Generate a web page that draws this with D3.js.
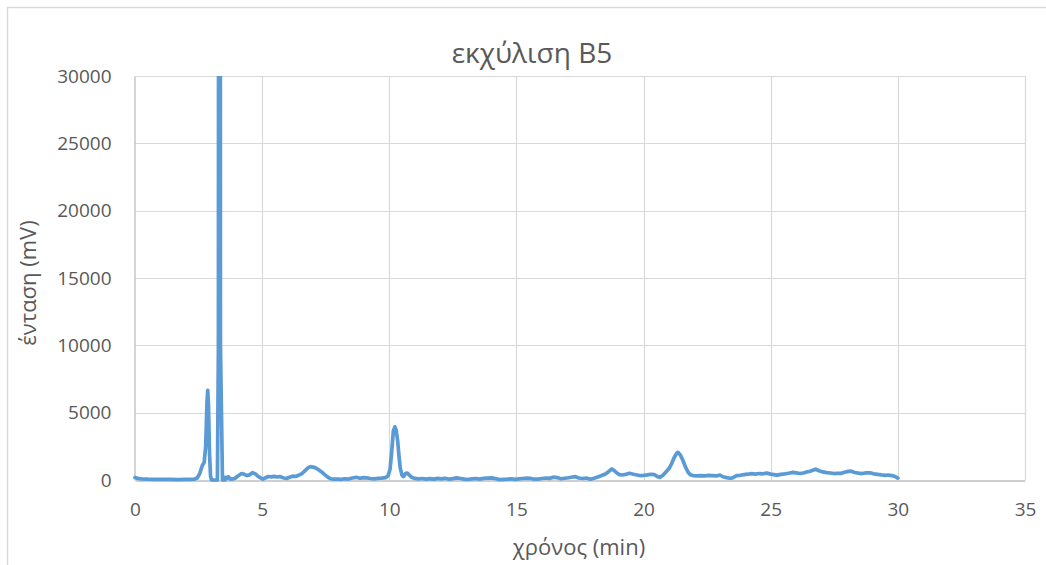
<!DOCTYPE html>
<html>
<head>
<meta charset="utf-8">
<script src="https://cdn.jsdelivr.net/npm/d3@7"></script>
<style>
  html, body { margin: 0; padding: 0; background: #fff; }
  svg { display: block; }
  text { font-family: "Open Sans", "DejaVu Sans", sans-serif; fill: #595959; }
</style>
</head>
<body>
<svg id="chart" width="1046" height="565"></svg>
<script>
// Chromatogram of extract B5: retention time (min) and detector signal (mV)
const timeMin = [
  0.00, 0.10, 0.25, 0.50, 0.80, 1.10, 1.40, 1.70, 2.00, 2.20, 2.35, 2.45, 2.55, 2.65, 2.72, 2.78,
  2.83, 2.86, 2.89, 2.93, 2.97, 3.01, 3.10, 3.24, 3.28, 3.32, 3.36, 3.44, 3.52, 3.56, 3.60,
  3.67, 3.75, 3.85, 3.95, 4.05, 4.19, 4.30, 4.40, 4.50, 4.62, 4.72, 4.82, 4.92, 5.03, 5.12, 5.24,
  5.36, 5.48, 5.60, 5.70, 5.82, 5.96, 6.08, 6.20, 6.32, 6.45, 6.58, 6.70, 6.80, 6.90, 7.00, 7.10,
  7.22, 7.34, 7.46, 7.57, 7.67, 7.80, 7.95, 8.10, 8.25, 8.40, 8.55, 8.70, 8.85, 9.00, 9.12, 9.25,
  9.40, 9.55, 9.70, 9.85, 9.95, 10.03, 10.10, 10.16, 10.22, 10.27, 10.33, 10.38, 10.43, 10.50, 10.56, 10.64,
  10.71, 10.78, 10.88, 11.00, 11.15, 11.30, 11.45, 11.60, 11.75, 11.90, 12.05, 12.20, 12.35, 12.50, 12.65, 12.80,
  12.95, 13.10, 13.25, 13.40, 13.55, 13.70, 13.85, 14.03, 14.20, 14.35, 14.50, 14.65, 14.80, 14.95, 15.10, 15.25,
  15.40, 15.55, 15.70, 15.85, 16.00, 16.15, 16.30, 16.45, 16.60, 16.75, 16.90, 17.05, 17.20, 17.32, 17.45, 17.60,
  17.75, 17.90, 18.05, 18.20, 18.35, 18.50, 18.62, 18.75, 18.85, 18.95, 19.05, 19.15, 19.30, 19.45, 19.60, 19.75,
  19.88, 20.00, 20.15, 20.30, 20.42, 20.55, 20.64, 20.75, 20.88, 21.00, 21.10, 21.20, 21.30, 21.36, 21.45, 21.55,
  21.65, 21.76, 21.85, 21.95, 22.10, 22.25, 22.40, 22.55, 22.70, 22.85, 23.00, 23.12, 23.27, 23.40, 23.50, 23.66,
  23.80, 23.95, 24.10, 24.25, 24.40, 24.55, 24.70, 24.84, 25.00, 25.12, 25.25, 25.40, 25.55, 25.70, 25.88, 26.00,
  26.15, 26.28, 26.42, 26.55, 26.68, 26.77, 26.90, 27.05, 27.20, 27.35, 27.50, 27.62, 27.75, 27.90, 28.05, 28.15,
  28.30, 28.45, 28.60, 28.75, 28.90, 29.05, 29.20, 29.35, 29.50, 29.62, 29.75, 29.85, 29.95, 30.00
];
const signalMv = [
  180, 120, 80, 60, 50, 40, 45, 35, 40, 50, 70, 150, 500, 1100, 1300, 2500,
  5800, 6650, 5600, 2000, 300, 0, 0, 0, 10000, 200000, 10000, 0, 0, 200, 80,
  250, 60, 80, 150, 300, 480, 420, 330, 380, 540, 470, 300, 180, 60, 150, 260,
  230, 270, 220, 260, 170, 110, 200, 290, 260, 370, 500, 720, 900, 990, 960, 900,
  760, 600, 400, 230, 110, 60, 70, 50, 90, 70, 150, 200, 130, 180, 160, 110,
  90, 120, 140, 180, 300, 800, 2200, 3650, 3950, 3700, 2900, 1800, 900, 350, 250, 480,
  520, 380, 200, 120, 80, 110, 60, 100, 70, 120, 80, 130, 60, 100, 160, 110,
  60, 40, 80, 110, 70, 120, 140, 160, 90, 30, 50, 60, 90, 50, 80, 110,
  140, 120, 60, 70, 110, 150, 120, 210, 180, 90, 130, 170, 220, 250, 150, 110,
  150, 60, 130, 220, 330, 450, 620, 820, 700, 520, 400, 370, 420, 500, 430, 370,
  320, 340, 380, 430, 400, 250, 200, 330, 600, 850, 1200, 1650, 1980, 2050, 1850, 1450,
  950, 550, 380, 330, 310, 330, 300, 340, 320, 300, 370, 240, 180, 130, 160, 320,
  350, 400, 430, 470, 440, 480, 460, 510, 440, 400, 360, 420, 450, 500, 570, 530,
  480, 520, 600, 650, 740, 800, 690, 600, 550, 520, 480, 500, 490, 580, 640, 660,
  560, 510, 480, 530, 540, 460, 420, 380, 350, 370, 330, 290, 200, 140
];
const xTicks = [0, 5, 10, 15, 20, 25, 30, 35];
const yTicks = [0, 5000, 10000, 15000, 20000, 25000, 30000];

const chartTitle = "εκχύλιση B5";
const xTitle = "χρόνος (min)";
const yTitle = "ένταση (mV)";

const svg = d3.select("#chart");
const W = 1046, H = 565;
const plot = { left: 135, right: 1025, top: 76, bottom: 480 };

const x = d3.scaleLinear().domain([0, 35]).range([plot.left, plot.right]);
const y = d3.scaleLinear().domain([0, 30000]).range([plot.bottom, plot.top]);

// chart-area frame (left and top edges)
svg.append("path")
  .attr("d", `M7.5,${H} L7.5,7.5 L${W},7.5`)
  .attr("fill", "none")
  .attr("stroke", "#D9D9D9")
  .attr("stroke-width", 1.5);

// gridlines
const grid = svg.append("g");
grid.selectAll("line.h").data(yTicks.filter(d => d > 0)).join("line")
  .attr("x1", plot.left).attr("x2", plot.right)
  .attr("y1", d => Math.round(y(d)) + 0.5).attr("y2", d => Math.round(y(d)) + 0.5)
  .attr("stroke", "#D9D9D9").attr("stroke-width", 1.2);
grid.selectAll("line.v").data(xTicks.filter(d => d > 0)).join("line")
  .attr("y1", plot.top).attr("y2", plot.bottom)
  .attr("x1", d => Math.round(x(d)) + 0.5).attr("x2", d => Math.round(x(d)) + 0.5)
  .attr("stroke", "#D9D9D9").attr("stroke-width", 1.2);

// axes
const xAxis = svg.append("g")
  .attr("transform", `translate(0,${plot.bottom + 0.5})`)
  .call(d3.axisBottom(x).tickValues(xTicks).tickSize(0).tickPadding(22).tickFormat(d3.format("d")));
xAxis.select(".domain").attr("stroke", "#BFBFBF").attr("stroke-width", 1.3);
xAxis.selectAll("text").style("font-size", "19px").attr("fill", "#595959")
  .style("font-family", "'Open Sans', sans-serif");

const yAxis = svg.append("g")
  .attr("transform", `translate(${plot.left - 0.5},0)`)
  .call(d3.axisLeft(y).tickValues(yTicks).tickSize(0).tickPadding(23).tickFormat(d3.format("d")));
yAxis.select(".domain").attr("stroke", "#BFBFBF").attr("stroke-width", 1.3);
yAxis.selectAll("text").style("font-size", "19px").attr("fill", "#595959")
  .style("font-family", "'Open Sans', sans-serif");

// clip the trace to the plotting area
svg.append("clipPath").attr("id", "plotClip")
  .append("rect")
  .attr("x", plot.left - 4).attr("y", plot.top)
  .attr("width", plot.right - plot.left + 8).attr("height", plot.bottom - plot.top + 6);

const points = timeMin.map((t, i) => [t, signalMv[i]]);
const line = d3.line().x(d => x(d[0])).y(d => y(d[1]));

svg.append("path")
  .datum(points)
  .attr("clip-path", "url(#plotClip)")
  .attr("d", line)
  .attr("fill", "none")
  .attr("stroke", "#5B9BD5")
  .attr("stroke-width", 3.7)
  .attr("stroke-linejoin", "round")
  .attr("stroke-linecap", "round");

// titles
svg.append("text")
  .attr("x", 532).attr("y", 63)
  .attr("text-anchor", "middle")
  .style("font-size", "28px")
  .text(chartTitle);

svg.append("text")
  .attr("x", 579).attr("y", 555)
  .attr("text-anchor", "middle")
  .style("font-size", "22px")
  .text(xTitle);

svg.append("text")
  .attr("transform", `translate(36,283) rotate(-90)`)
  .attr("text-anchor", "middle")
  .style("font-size", "22px")
  .text(yTitle);
</script>
</body>
</html>
